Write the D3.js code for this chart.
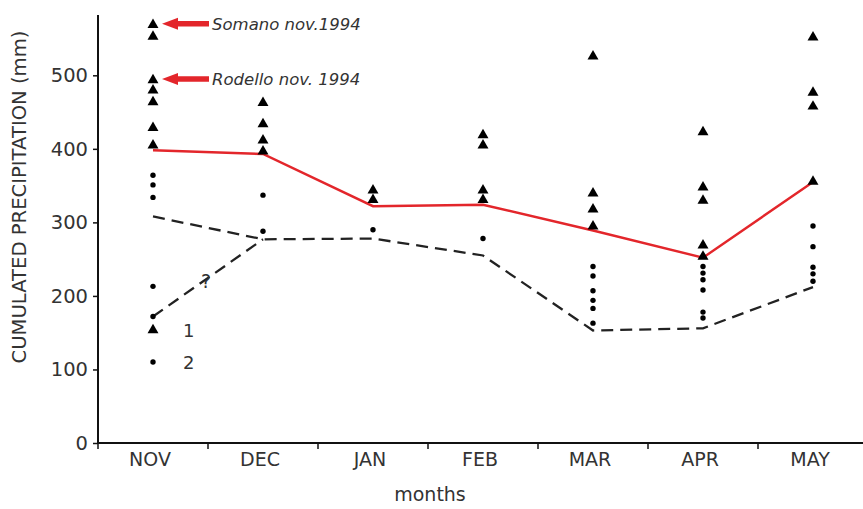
<!DOCTYPE html>
<html>
<head>
<meta charset="utf-8">
<script src="https://cdn.jsdelivr.net/npm/d3@7"></script>
<style>
  html, body { margin: 0; padding: 0; background: #fff; }
  svg { display: block; }
  text { font-family: "DejaVu Sans", Verdana, sans-serif; fill: #333; }
</style>
</head>
<body>
<svg id="chart" width="863" height="509"></svg>
<script>
// Months of the rainy season
const months = ["NOV", "DEC", "JAN", "FEB", "MAR", "APR", "MAY"];

// Events that triggered landslides (1) – cumulated rainfall, mm
const triggerNov = [570, 554, 495, 481, 465, 430, 406];
const triggerDec = [464, 435, 413, 398];
const triggerJan = [345, 332];
const triggerFeb = [420, 406, 345, 332];
const triggerMar = [527, 341, 319, 296];
const triggerApr = [424, 349, 331, 270, 255];
const triggerMay = [553, 478, 459, 357];

// Events without landslides (2) – cumulated rainfall, mm
const noTriggerNov = [364, 351, 334, 213, 172];
const noTriggerDec = [337, 288];
const noTriggerJan = [290];
const noTriggerFeb = [278];
const noTriggerMar = [240, 227, 207, 194, 183, 163];
const noTriggerApr = [240, 231, 222, 208, 178, 170];
const noTriggerMay = [295, 267, 239, 230, 220];

// Lower threshold of the triggering events (red line)
const upperThreshold = [398, 393, 322, 324, 289, 252, 355];
// Upper envelope of the non-triggering events (dashed line)
const lowerThreshold = [308, 277, 278, 255, 153, 156, 212];
// Uncertain November branch of the dashed line ("?")
const uncertainBranch = [["NOV", 172], ["DEC", 277]];

// Labelled record events
const records = [
  { month: "NOV", value: 570, label: "Somano nov.1994" },
  { month: "NOV", value: 495, label: "Rodello nov. 1994" }
];

const yTicks = [0, 100, 200, 300, 400, 500];

const triggers = [triggerNov, triggerDec, triggerJan, triggerFeb, triggerMar, triggerApr, triggerMay];
const noTriggers = [noTriggerNov, noTriggerDec, noTriggerJan, noTriggerFeb, noTriggerMar, noTriggerApr, noTriggerMay];

const svg = d3.select("#chart");

const x = d3.scaleBand().domain(months).range([98, 868]);
const y = d3.scaleLinear().domain([0, 582]).range([443, 15]);
const cx = m => x(m) + x.bandwidth() / 2;

// Axes
const yAxis = svg.append("g")
  .attr("transform", "translate(98,0)")
  .call(d3.axisLeft(y).tickValues(yTicks).tickSize(5).tickPadding(5));
yAxis.select(".domain").attr("stroke", "#111").attr("stroke-width", 2)
  .attr("d", `M0,${y(0)}V${y.range()[1]}`);
yAxis.selectAll(".tick line").attr("stroke", "#111").attr("stroke-width", 1.5);
yAxis.selectAll(".tick text").style("font-size", "19.5px").attr("fill", "#333");

const xAxis = svg.append("g")
  .attr("transform", `translate(0,${y(0)})`)
  .call(d3.axisBottom(x).tickSize(0).tickPadding(10));
xAxis.select(".domain").attr("stroke", "#111").attr("stroke-width", 2)
  .attr("d", `M${x.range()[0]},0H863`);
xAxis.selectAll(".tick text").style("font-size", "19px").attr("fill", "#333")
  .attr("dx", "-3");
// tick marks at the boundaries between months
xAxis.selectAll("line.sep")
  .data(months)
  .join("line")
  .attr("class", "sep")
  .attr("x1", d => x(d)).attr("x2", d => x(d))
  .attr("y1", 0).attr("y2", 6)
  .attr("stroke", "#111").attr("stroke-width", 1.5);

// Axis titles
svg.append("text")
  .attr("transform", "translate(26,197) rotate(-90)")
  .attr("text-anchor", "middle")
  .style("font-size", "19.6px")
  .text("CUMULATED PRECIPITATION (mm)");

svg.append("text")
  .attr("x", 430).attr("y", 501)
  .attr("text-anchor", "middle")
  .style("font-size", "19px")
  .text("months");

// Threshold lines
const line = d3.line().x(d => cx(d[0])).y(d => y(d[1]));

svg.append("path")
  .datum(months.map((m, i) => [m, lowerThreshold[i]]))
  .attr("d", line)
  .attr("fill", "none")
  .attr("stroke", "#222")
  .attr("stroke-width", 2.3)
  .attr("stroke-dasharray", "12,7");

svg.append("path")
  .datum(uncertainBranch)
  .attr("d", line)
  .attr("fill", "none")
  .attr("stroke", "#222")
  .attr("stroke-width", 2.3)
  .attr("stroke-dasharray", "12,7");

svg.append("text")
  .attr("x", (cx("NOV") + cx("DEC")) / 2 - 2)
  .attr("y", y(213) + 2)
  .attr("text-anchor", "middle")
  .style("font-size", "19px")
  .text("?");

svg.append("path")
  .datum(months.map((m, i) => [m, upperThreshold[i]]))
  .attr("d", line)
  .attr("fill", "none")
  .attr("stroke", "#e3262b")
  .attr("stroke-width", 2.4);

// Points
const tri = d3.symbol().type(d3.symbolTriangle).size(52);

months.forEach((m, i) => {
  svg.append("g").selectAll("path")
    .data(triggers[i])
    .join("path")
    .attr("d", tri)
    .attr("transform", d => `translate(${cx(m)},${y(d) + 1})`)
    .attr("fill", "#000");

  svg.append("g").selectAll("circle")
    .data(noTriggers[i])
    .join("circle")
    .attr("cx", cx(m))
    .attr("cy", d => y(d))
    .attr("r", 2.7)
    .attr("fill", "#000");
});

// Record events annotations
records.forEach(r => {
  const tipX = cx(r.month) + 9;
  const yy = y(r.value);
  svg.append("path")
    .attr("d", `M${tipX},${yy} L${tipX + 16},${yy - 6} L${tipX + 16},${yy - 2.8} L${tipX + 47},${yy - 2.8} L${tipX + 47},${yy + 2.8} L${tipX + 16},${yy + 2.8} L${tipX + 16},${yy + 6} Z`)
    .attr("fill", "#e3262b");
  svg.append("text")
    .attr("x", tipX + 50)
    .attr("y", yy + 6)
    .style("font-size", "16.5px")
    .style("font-style", "italic")
    .attr("fill", "#222")
    .text(r.label);
});

// Legend
const legend = svg.append("g").attr("transform", `translate(${cx("NOV")},0)`);
legend.append("path")
  .attr("d", tri)
  .attr("transform", "translate(0,330)")
  .attr("fill", "#000");
legend.append("text").attr("x", 30).attr("y", 337).style("font-size", "18px").text("1");
legend.append("circle").attr("cx", 0).attr("cy", 362).attr("r", 2.7).attr("fill", "#000");
legend.append("text").attr("x", 30).attr("y", 369).style("font-size", "18px").text("2");
</script>
</body>
</html>
